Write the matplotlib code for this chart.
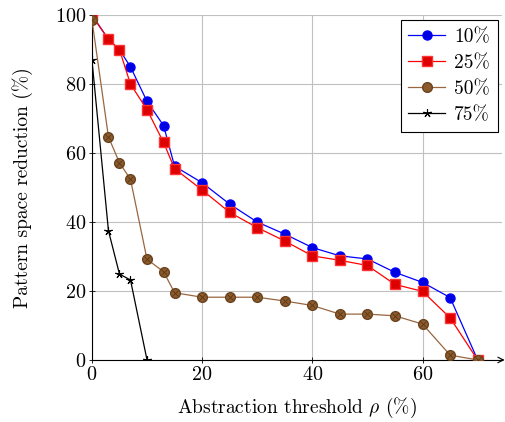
import numpy as np
import matplotlib.pyplot as plt

plt.rcParams['font.family'] = 'serif'
plt.rcParams['font.serif'] = ['cmr10', 'DejaVu Serif']
plt.rcParams['mathtext.fontset'] = 'cm'
plt.rcParams['axes.formatter.use_mathtext'] = True

rho = [0, 3, 5, 7, 10, 13, 15, 20, 25, 30, 35, 40, 45, 50, 55, 60, 65, 70]
red_10 = [100, 93, 90, 85, 75, 68, 56.2, 51.4, 45.2, 40.0, 36.5, 32.6, 30.2, 29.3, 25.4, 22.5, 18.1, 0]
red_25 = [100, 93, 90, 80, 72.6, 63.1, 55.5, 49.3, 42.8, 38.4, 34.5, 30.2, 28.9, 27.4, 21.9, 19.9, 12.2, 0]
red_50 = [98.7, 64.7, 57.2, 52.4, 29.2, 25.6, 19.5, 18.2, 18.2, 18.2, 17.1, 15.8, 13.3, 13.3, 12.8, 10.4, 1.4, 0]
rho_75 = [0, 3, 5, 7, 10]
red_75 = [87.1, 37.5, 24.9, 23.2, 0]

fig = plt.figure(figsize=(5.05, 4.22), dpi=100)
ax = fig.add_axes([0.182, 0.147, 0.813, 0.817])

ax.plot(rho, red_10, color='#0000ff', lw=0.9, marker='o', ms=6.5,
        mfc='#0000e0', mec='#0000ff', label='10%', zorder=3)
ax.plot(rho, red_25, color='#ff0000', lw=0.9, marker='s', ms=7,
        mfc='#dd0000', mec='#ff3333', label='25%', zorder=3)
ax.plot(rho, red_50, color='#99663f', lw=0.9, marker='o', ms=7,
        mfc='#8c5a2b', mec='#6b4420', label='50%', zorder=3)
ax.plot(rho, red_50, ls='none', marker='x', ms=4.5, mec='#5a3818', mew=0.6, zorder=4)
ax.plot(rho_75, red_75, color='black', lw=0.9, marker=(5, 2), ms=6,
        mec='black', mew=0.8, label='75%', zorder=3)

ax.set_xlim(0, 74.5)
ax.set_ylim(0, 100)
ax.set_xticks([0, 20, 40, 60])
ax.set_yticks([0, 20, 40, 60, 80, 100])
ax.grid(color='#c0c0c0', lw=0.8)
ax.set_axisbelow(True)
for s in ['top', 'right']:
    ax.spines[s].set_visible(False)
ax.spines['left'].set_linewidth(0.8)
ax.spines['bottom'].set_linewidth(0.8)
ax.tick_params(direction='inout', length=4, width=0.6, labelsize=14.5, pad=2)
ax.annotate('', xy=(1.012, 0), xycoords='axes fraction', xytext=(0.99, 0),
            arrowprops=dict(arrowstyle='->', lw=0.8, color='black'))

ax.set_xlabel(r'Abstraction threshold $\rho$ (%)', fontsize=14, labelpad=9)
ax.set_ylabel('Pattern space reduction (%)', fontsize=14, labelpad=16)

leg = ax.legend(loc='upper right', fontsize=14, fancybox=False, framealpha=1,
                edgecolor='black', borderaxespad=0.25, handlelength=1.9,
                handletextpad=0.45, labelspacing=0.42, borderpad=0.4)
leg.get_frame().set_linewidth(0.8)

fig.savefig('out.png', dpi=100)
